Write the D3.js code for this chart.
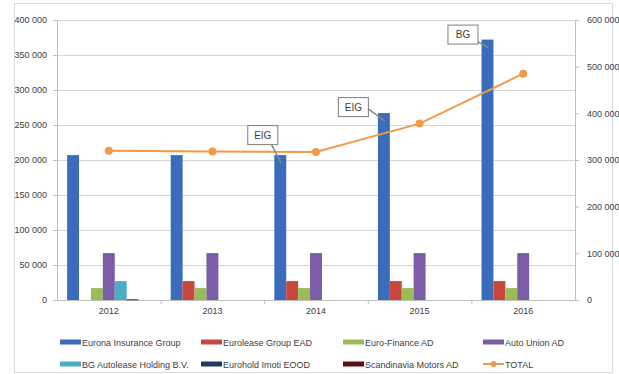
<!DOCTYPE html>
<html>
<head>
<meta charset="utf-8">
<script src="https://cdn.jsdelivr.net/npm/d3@7"></script>
<style>
  body { margin: 0; background: #fff; }
  svg { font-family: "Liberation Sans", Arial, sans-serif; }
</style>
</head>
<body>
<svg id="chart" width="619" height="374"></svg>
<script>
// data
const years = ['2012', '2013', '2014', '2015', '2016']
const seriesNames = ['Eurona Insurance Group', 'Eurolease Group EAD', 'Euro-Finance AD', 'Auto Union AD',
                     'BG Autolease Holding B.V.', 'Eurohold Imoti EOOD', 'Scandinavia Motors AD']
const euronaValues = [207000, 207000, 207000, 267000, 372000]
const euroleaseValues = [0, 27000, 27000, 27000, 27000]
const euroFinanceValues = [17000, 17000, 17000, 17000, 17000]
const autoUnionValues = [67000, 67000, 67000, 67000, 67000]
const bgAutoleaseValues = [27000, 0, 0, 0, 0]
const euroholdImotiValues = [1000, 0, 0, 0, 0]
const scandinaviaValues = [0, 0, 0, 0, 0]
const totalValues = [320000, 318000, 317000, 378000, 485000]
const leftTicks = [0, 50000, 100000, 150000, 200000, 250000, 300000, 350000, 400000]
const rightTicks = [0, 100000, 200000, 300000, 400000, 500000, 600000]
const callouts = [{year: '2014', label: 'EIG'}, {year: '2015', label: 'EIG'}, {year: '2016', label: 'BG'}]

const colors = ['#3B6BBB', '#C9463F', '#9BBB59', '#7B5CA6', '#4BACC6', '#1F3864', '#5C0F14']
const totalColor = '#F29A4A'

const allValues = [euronaValues, euroleaseValues, euroFinanceValues, autoUnionValues,
                   bgAutoleaseValues, euroholdImotiValues, scandinaviaValues]

const svg = d3.select('#chart')
const plotLeft = 57, plotRight = 575, plotTop = 20, plotBottom = 300

// outer chart frame
svg.append('rect')
   .attr('x', 14.5).attr('y', 3.5)
   .attr('width', 598).attr('height', 369)
   .style('fill', 'none').style('stroke', '#d9d9d9')

const fmt = d3.formatLocale({decimal: ',', thousands: ' ', grouping: [3], currency: ['', '']}).format(',')

//scales
const x0 = d3.scaleBand().domain(years).range([plotLeft, plotRight])
const x1 = d3.scaleBand().domain(seriesNames).range([0, x0.bandwidth()]).paddingOuter(0.85)
const yLeft = d3.scaleLinear().domain([0, 400000]).range([plotBottom, plotTop])
const yRight = d3.scaleLinear().domain([0, 600000]).range([plotBottom, plotTop])

//gridlines
svg.append('g')
   .selectAll('line')
   .data(leftTicks.filter(d => d > 0))
   .join('line')
   .attr('x1', plotLeft).attr('x2', plotRight)
   .attr('y1', d => Math.round(yLeft(d)) + 0.5).attr('y2', d => Math.round(yLeft(d)) + 0.5)
   .style('stroke', '#d6d6d6')

//axes
const axisL = svg.append('g')
   .attr('transform', `translate(${plotLeft},0)`)
   .call(d3.axisLeft(yLeft).tickValues(leftTicks).tickFormat(fmt).tickSize(4).tickPadding(6))
const axisR = svg.append('g')
   .attr('transform', `translate(${plotRight},0)`)
   .call(d3.axisRight(yRight).tickValues(rightTicks).tickFormat(fmt).tickSize(4).tickPadding(8))
const axisB = svg.append('g')
   .attr('transform', `translate(0,${plotBottom})`)
   .call(d3.axisBottom(x0).tickSize(0).tickPadding(8))

;[axisL, axisR, axisB].forEach(a => {
    a.select('.domain').style('stroke', '#bfbfbf')
    a.selectAll('.tick line').style('stroke', '#bfbfbf')
    a.selectAll('text').style('fill', '#404040').style('font-size', '9px')
})

// category boundary ticks
svg.append('g')
   .selectAll('line')
   .data(years.slice(1))
   .join('line')
   .attr('x1', d => x0(d) + 0.5).attr('x2', d => x0(d) + 0.5)
   .attr('y1', plotBottom).attr('y2', plotBottom + 4)
   .style('stroke', '#bfbfbf')

//bars
const barData = []
allValues.forEach((vals, i) => vals.forEach((v, j) => barData.push({series: seriesNames[i], year: years[j], value: v, i})))

svg.append('g')
   .selectAll('rect')
   .data(barData.filter(d => d.value > 0))
   .join('rect')
   .attr('x', d => x0(d.year) + x1(d.series))
   .attr('width', x1.bandwidth())
   .attr('y', d => yLeft(d.value))
   .attr('height', d => Math.max(1, plotBottom - yLeft(d.value)))
   .style('fill', d => colors[d.i])

//total line
const line = d3.line()
    .x((d, i) => x0(years[i]) + x0.bandwidth() / 2)
    .y(d => yRight(d))

svg.append('path')
   .datum(totalValues)
   .attr('d', line)
   .style('fill', 'none')
   .style('stroke', totalColor)
   .style('stroke-width', 2)

svg.append('g')
   .selectAll('circle')
   .data(totalValues)
   .join('circle')
   .attr('cx', (d, i) => x0(years[i]) + x0.bandwidth() / 2)
   .attr('cy', d => yRight(d))
   .attr('r', 4)
   .style('fill', totalColor)

//callouts above the Eurona bars
callouts.forEach(c => {
    const idx = years.indexOf(c.year)
    const bx = x0(c.year) + x1(seriesNames[0]) + x1.bandwidth() / 2
    const by = yLeft(euronaValues[idx])
    const w = 30, h = 19
    let boxX, boxY, fromX, fromY
    if (c.year === '2014') {
        boxX = bx - 33; boxY = by - 30; fromX = boxX + 24; fromY = boxY + h
    } else if (c.year === '2015') {
        boxX = bx - 46; boxY = by - 16; fromX = boxX + w; fromY = boxY + h / 2 + 2
    } else {
        boxX = bx - 40; boxY = by - 15; fromX = boxX + w; fromY = boxY + h - 2
    }
    const g = svg.append('g')
    g.append('line')
     .attr('x1', fromX).attr('y1', fromY)
     .attr('x2', bx + 1).attr('y2', by + 8)
     .style('stroke', '#8a8a8a').style('stroke-width', 1.5)
    g.append('rect')
     .attr('x', boxX + 0.5).attr('y', boxY + 0.5)
     .attr('width', w).attr('height', h)
     .style('fill', '#fff').style('stroke', '#7f7f7f')
    g.append('text')
     .attr('x', boxX + w / 2 + 0.5).attr('y', boxY + h / 2 + 4)
     .attr('text-anchor', 'middle')
     .style('font-size', '10px').style('fill', '#404040')
     .text(c.label)
})

//legend
const legendNames = seriesNames.concat(['TOTAL'])
const colX = [60, 201, 343, 483], rowY = [342, 364]
const legend = svg.append('g')
legendNames.forEach((name, i) => {
    const x = colX[i % 4], y = rowY[Math.floor(i / 4)]
    if (name === 'TOTAL') {
        legend.append('line').attr('x1', x).attr('x2', x + 21).attr('y1', y).attr('y2', y)
              .style('stroke', totalColor).style('stroke-width', 2)
        legend.append('circle').attr('cx', x + 10.5).attr('cy', y).attr('r', 3).style('fill', totalColor)
    } else {
        legend.append('rect').attr('x', x).attr('y', y - 2.5).attr('width', 21).attr('height', 5)
              .style('fill', colors[i])
    }
    legend.append('text')
          .attr('x', x + 22).attr('y', y + 3.5)
          .style('font-size', '9px').style('fill', '#404040')
          .text(name)
})
</script>
</body>
</html>
